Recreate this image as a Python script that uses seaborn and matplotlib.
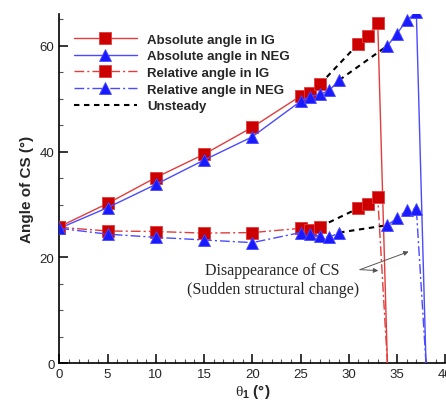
import matplotlib
matplotlib.use("Agg")
import matplotlib.pyplot as plt
from matplotlib.lines import Line2D
from matplotlib.ticker import MultipleLocator
import seaborn as sns

# theta_1 sample points (deg)
theta_ig_steady = [0, 5, 10, 15, 20, 25, 26, 27]
theta_ig_late = [31, 32, 33]
theta_neg_steady = [0, 5, 10, 15, 20, 25, 26, 27, 28, 29]
theta_neg_late = [34, 35, 36, 37]
# theta_1 at which the CS vanishes (angle falls to zero)
theta_ig_vanish = 34
theta_neg_vanish = 38

# CS angles (deg)
abs_ig_steady = [25.8, 30.2, 35.1, 39.5, 44.6, 50.5, 51.1, 52.7]
abs_ig_late = [60.4, 61.9, 64.3]
rel_ig_steady = [25.7, 25.0, 24.9, 24.6, 24.7, 25.5, 25.2, 25.8]
rel_ig_late = [29.3, 30.1, 31.4]
abs_neg_steady = [25.5, 29.4, 33.8, 38.4, 42.8, 49.5, 50.4, 50.8, 51.6, 53.5]
abs_neg_late = [60.0, 62.3, 64.8, 66.3]
rel_neg_steady = [25.5, 24.4, 23.8, 23.3, 22.8, 24.7, 24.4, 24.0, 23.8, 24.7]
rel_neg_late = [26.1, 27.4, 28.9, 29.2]

legend_labels = ["Absolute angle in IG", "Absolute angle in NEG",
                 "Relative angle in IG", "Relative angle in NEG", "Unsteady"]

sns.set_style("ticks")
plt.rcParams["font.family"] = ["Liberation Sans", "DejaVu Sans"]
plt.rcParams["mathtext.fontset"] = "custom"
plt.rcParams["mathtext.rm"] = "Liberation Serif"
plt.rcParams["mathtext.it"] = "Liberation Serif"
plt.rcParams["mathtext.bf"] = "Liberation Sans:bold"

RED_M, RED_L = "#cc0000", "#e23c3c"
BLUE_M, BLUE_L = "#1a1aff", "#4a4aff"
DASHDOT = (0, (7, 2.2, 1.5, 2.2))
UNSTEADY = (0, (2.6, 2.2))

fig = plt.figure(figsize=(4.46, 4.02), dpi=100)
ax = fig.add_axes([0.133, 0.0938, 0.8654, 0.8689])

sq = dict(marker="s", markersize=8.2, markeredgewidth=0.6)
tri = dict(marker="^", markersize=9, markeredgewidth=0.6)


def series(xs_a, ys_a, xs_b, ys_b, x_end, color_l, color_m, ls, mk):
    # steady branch
    sns.lineplot(x=xs_a, y=ys_a, ax=ax, sort=False, estimator=None,
                 color=color_l, linewidth=1.0, linestyle=ls,
                 markerfacecolor=color_m, markeredgecolor=color_l,
                 zorder=3, **mk)
    # unsteady gap
    sns.lineplot(x=[xs_a[-1], xs_b[0]], y=[ys_a[-1], ys_b[0]], ax=ax,
                 sort=False, estimator=None, color="black",
                 linewidth=1.5, linestyle=UNSTEADY, zorder=2)
    # late branch, dropping to zero when the CS disappears
    n = len(xs_b)
    sns.lineplot(x=list(xs_b) + [x_end], y=list(ys_b) + [0], ax=ax,
                 sort=False, estimator=None,
                 color=color_l, linewidth=1.0, linestyle=ls,
                 markerfacecolor=color_m, markeredgecolor=color_l,
                 markevery=list(range(n)), zorder=3, **mk)


series(theta_ig_steady, abs_ig_steady, theta_ig_late, abs_ig_late,
       theta_ig_vanish, RED_L, RED_M, "-", sq)
series(theta_neg_steady, abs_neg_steady, theta_neg_late, abs_neg_late,
       theta_neg_vanish, BLUE_L, BLUE_M, "-", tri)
series(theta_ig_steady, rel_ig_steady, theta_ig_late, rel_ig_late,
       theta_ig_vanish, RED_L, RED_M, DASHDOT, sq)
series(theta_neg_steady, rel_neg_steady, theta_neg_late, rel_neg_late,
       theta_neg_vanish, BLUE_L, BLUE_M, DASHDOT, tri)

ax.set_xlim(0, 40)
ax.set_ylim(0, 66)
ax.xaxis.set_major_locator(MultipleLocator(5))
ax.xaxis.set_minor_locator(MultipleLocator(1))
ax.yaxis.set_major_locator(MultipleLocator(20))
ax.yaxis.set_minor_locator(MultipleLocator(5))
ax.tick_params(which="major", direction="in", length=6.5, width=1.1,
               labelsize=9.5, pad=3.5, color="black")
ax.tick_params(which="minor", direction="in", length=3.2, width=0.8,
               color="#555555")
for side in ("top", "right"):
    ax.spines[side].set_visible(False)
for side in ("left", "bottom"):
    ax.spines[side].set_linewidth(1.2)
    ax.spines[side].set_color("black")

ax.set_xlabel(r"$\theta_{\mathbf{1}}$ (°)", fontsize=11, fontweight="bold",
              labelpad=1)
ax.set_ylabel("Angle of CS (°)", fontsize=11, fontweight="bold", labelpad=4)

handles = [
    Line2D([], [], color=RED_L, lw=1.0, markerfacecolor=RED_M,
           markeredgecolor=RED_L, **sq),
    Line2D([], [], color=BLUE_L, lw=1.0, markerfacecolor=BLUE_M,
           markeredgecolor=BLUE_L, **tri),
    Line2D([], [], color=RED_L, lw=1.0, ls=DASHDOT, markerfacecolor=RED_M,
           markeredgecolor=RED_L, **sq),
    Line2D([], [], color=BLUE_L, lw=1.0, ls=DASHDOT, markerfacecolor=BLUE_M,
           markeredgecolor=BLUE_L, **tri),
    Line2D([], [], color="black", lw=1.5, ls=UNSTEADY),
]
fig.legend(handles, legend_labels, loc="upper left",
           bbox_to_anchor=(67 / 446, 1 - 28 / 402), frameon=False,
           borderpad=0, handlelength=4.8, handletextpad=0.8,
           labelspacing=0.33, prop={"weight": "bold", "size": 9.5})

ax.text(22.1, 15.9, "Disappearance of CS\n(Sudden structural change)",
        ha="center", va="center", fontsize=11.5, family="Liberation Serif",
        linespacing=1.25)
arrow = dict(arrowstyle="-|>", color="#555555", lw=0.7,
             mutation_scale=7, shrinkA=0, shrinkB=0)
for tip in [(33.06, 17.5), (36.2, 21.1)]:
    ax.annotate("", xy=tip, xytext=(31.16, 17.7), arrowprops=arrow)

fig.savefig("out.png", dpi=100)
